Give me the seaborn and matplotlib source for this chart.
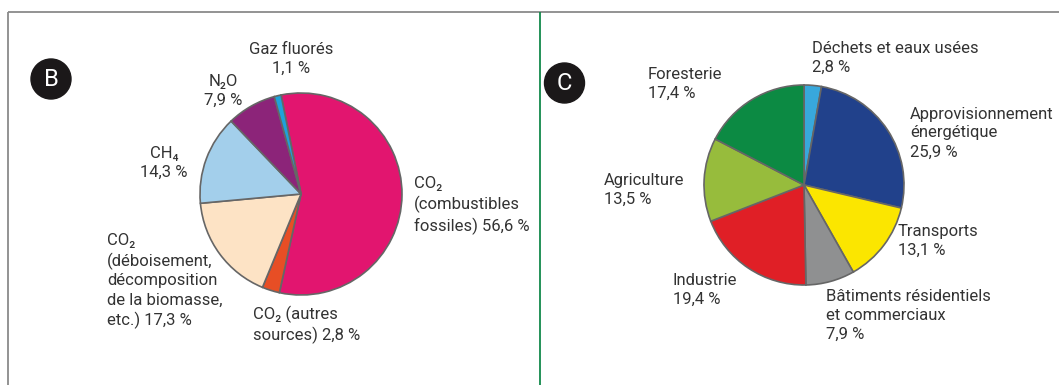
import matplotlib
matplotlib.use("Agg")
import matplotlib.pyplot as plt
from matplotlib.patches import Circle
import seaborn as sns

# ---------------- data ----------------
gases = ["CO₂\n(combustibles\nfossiles)", "CO₂ (autres\nsources)",
         "CO₂\n(déboisement,\ndécomposition\nde la biomasse,\netc.)",
         "CH₄", "N₂O", "Gaz fluorés"]
gas_shares = [56.6, 2.8, 17.3, 14.3, 7.9, 1.1]
gas_colors = ["#e2156f", "#e74e25", "#fde3c5", "#a3cfeb", "#8c2479", "#1ea2da"]

sectors = ["Déchets et eaux usées", "Approvisionnement\nénergétique", "Transports",
           "Bâtiments résidentiels\net commerciaux", "Industrie", "Agriculture", "Foresterie"]
sector_shares = [2.8, 25.9, 13.1, 7.9, 19.4, 13.5, 17.4]
sector_colors = ["#38a8dc", "#21418b", "#fbe600", "#8f9091", "#e01f26", "#97bc3c", "#0c8a43"]

# label layout (pixel positions: x, y-center, alignment, newline before %)
gas_label_pos = [(414, 205.5, "left", False), (253, 325, "left", False),
                 (107, 281, "left", False), (164, 163, "center", True),
                 (223, 90.5, "center", True), (291, 59, "center", True)]
sector_label_pos = [(811.7, 58, "left", True), (910, 133, "left", True),
                    (898, 241, "left", True), (826, 315, "left", True),
                    (673, 290, "left", True), (604, 189.5, "left", True),
                    (648, 84, "left", True)]

# ---------------- style ----------------
sns.set_theme(style="white")
plt.rcParams["font.family"] = ["Roboto", "DejaVu Sans"]
TEXT = "#333333"
EDGE = "#666666"

W, H = 1059, 385
fig = plt.figure(figsize=(W / 100, H / 100), dpi=100)
ax = fig.add_axes([0, 0, 1, 1])


def py(y):
    return H - y


def pct(v):
    return f"{v:.1f}".replace(".", ",") + " %"


# pies
ax.pie(gas_shares, colors=gas_colors, startangle=101.4, counterclock=False,
       center=(301, py(194)), radius=101,
       wedgeprops=dict(edgecolor=EDGE, linewidth=1.2))
ax.pie(sector_shares, colors=sector_colors, startangle=90, counterclock=False,
       center=(804, py(185)), radius=100,
       wedgeprops=dict(edgecolor=EDGE, linewidth=1.2))

# labels
for name, v, (x, y, ha, nl) in zip(gases, gas_shares, gas_label_pos):
    s = name + ("\n" if nl else " ") + pct(v)
    ax.text(x, py(y), s, ha=ha, va="center", multialignment=ha,
            fontsize=12, color=TEXT, linespacing=1.33)
for name, v, (x, y, ha, nl) in zip(sectors, sector_shares, sector_label_pos):
    s = name + ("\n" if nl else " ") + pct(v)
    ax.text(x, py(y), s, ha=ha, va="center", multialignment=ha,
            fontsize=12, color=TEXT, linespacing=1.33)

# panel badges
for (cx, cy, letter) in [(51, 79, "B"), (564.5, 83, "C")]:
    ax.add_patch(Circle((cx, py(cy)), 20, color="#1b1819", zorder=5))
    ax.text(cx, py(cy) - 0.5, letter, ha="center", va="center", color="white",
            fontsize=17, zorder=6)

# frame lines
ax.plot([7.5, W], [py(12), py(12)], color="#8a8a8a", lw=1.3, solid_capstyle="butt")
ax.plot([7.5, 7.5], [py(12), 0], color="#8a8a8a", lw=1.3, solid_capstyle="butt")
ax.plot([540, 540], [py(12), 0], color="#13894b", lw=1.3, solid_capstyle="butt")

ax.set_xlim(0, W)
ax.set_ylim(0, H)
ax.set_aspect("equal")
ax.axis("off")

fig.savefig("out.png", dpi=100, facecolor="white")
